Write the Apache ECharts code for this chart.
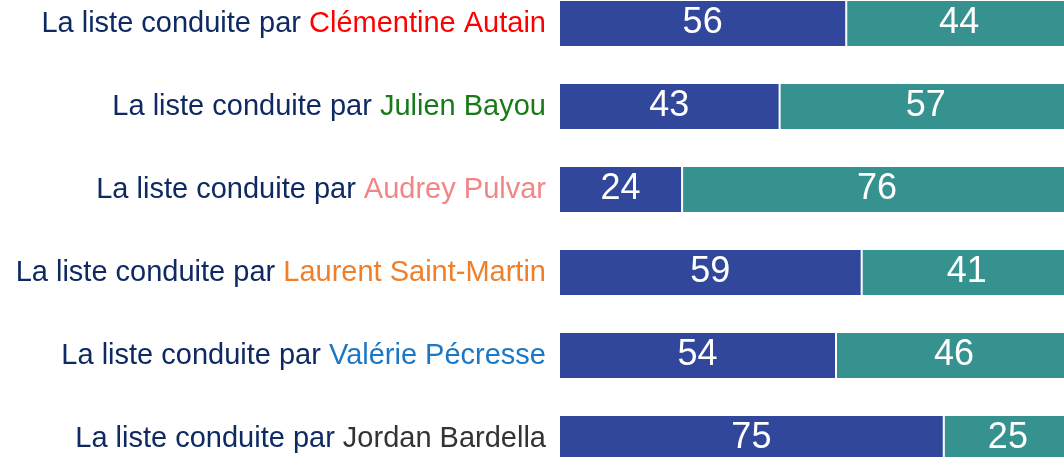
<!DOCTYPE html>
<html>
<head>
<meta charset="utf-8">
<script src="https://cdn.jsdelivr.net/npm/echarts@6/dist/echarts.min.js"></script>
<style>
  html, body { margin: 0; padding: 0; background: #fff; }
  #chart { width: 1064px; height: 457px; }
</style>
</head>
<body>
<div id="chart"></div>
<script>
  // data
  var leaders = ['Clémentine Autain', 'Julien Bayou', 'Audrey Pulvar', 'Laurent Saint-Martin', 'Valérie Pécresse', 'Jordan Bardella'];
  var firstPart = [56, 43, 24, 59, 54, 75];
  var secondPart = [44, 57, 76, 41, 46, 25];

  // name colours, one rich style per row
  var nameColors = ['#ff0000', '#197a19', '#f28585', '#f07f2a', '#1c78c4', '#333333'];
  var rich = { pre: { color: '#0f2a62', fontSize: 29, fontFamily: 'Liberation Sans' } };
  nameColors.forEach(function (c, i) {
    rich['n' + i] = { color: c, fontSize: 29, fontFamily: 'Liberation Sans' };
  });

  var chart = echarts.init(document.getElementById('chart'));
  var valueLabel = {
    show: true,
    position: 'inside',
    color: '#fff',
    fontSize: 36,
    fontFamily: 'Liberation Sans'
  };
  chart.setOption({
    animation: false,
    grid: { left: 559, width: 513, top: -18, height: 498, containLabel: false, outerBoundsMode: 'none' },
    xAxis: { type: 'value', min: 0, max: 100, show: false },
    yAxis: {
      type: 'category',
      inverse: true,
      data: leaders,
      axisLine: { show: false },
      axisTick: { show: false },
      axisLabel: {
        margin: 13,
        formatter: function (v, i) {
          return '{pre|La liste conduite par }{n' + i + '|' + v + '}';
        },
        rich: rich
      }
    },
    series: [
      {
        type: 'bar', stack: 'all', data: firstPart, barWidth: 47,
        itemStyle: { color: '#30479b', borderColor: '#fff', borderWidth: 1 },
        label: valueLabel
      },
      {
        type: 'bar', stack: 'all', data: secondPart, barWidth: 47,
        itemStyle: { color: '#35928f', borderColor: '#fff', borderWidth: 1 },
        label: valueLabel
      }
    ]
  });
</script>
</body>
</html>
